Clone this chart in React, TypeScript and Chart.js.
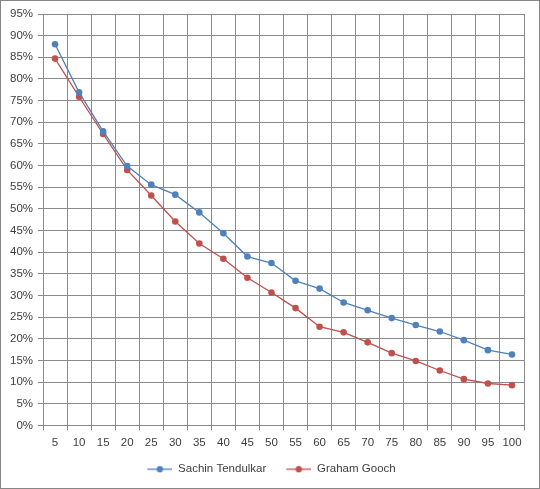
import React, { useEffect, useRef } from "react";
import { Chart, registerables } from "chart.js";

Chart.register(...registerables);

const categories = ["5", "10", "15", "20", "25", "30", "35", "40", "45", "50", "55", "60", "65", "70", "75", "80", "85", "90", "95", "100"];
const sachin = [88.0, 76.9, 67.9, 59.9, 55.6, 53.3, 49.2, 44.4, 39.0, 37.5, 33.4, 31.6, 28.4, 26.6, 24.8, 23.2, 21.7, 19.7, 17.4, 16.4];
const gooch = [84.7, 75.9, 67.3, 59.0, 53.1, 47.1, 42.0, 38.5, 34.1, 30.7, 27.1, 22.8, 21.5, 19.2, 16.7, 14.9, 12.7, 10.7, 9.7, 9.3];
const seriesNames = ["Sachin Tendulkar", "Graham Gooch"];
const seriesColors = ["#4F81BD", "#C0504D"];

const FONT = "'Liberation Sans', Arial, sans-serif";
const GRID = "#8a8a8a";
const TEXT = "#404040";

function legendIcon(color: string): HTMLCanvasElement {
  const c = document.createElement("canvas");
  c.width = 44;
  c.height = 8;
  const ctx = c.getContext("2d")!;
  ctx.strokeStyle = color;
  ctx.lineWidth = 1.3;
  ctx.beginPath();
  ctx.moveTo(19, 4);
  ctx.lineTo(44, 4);
  ctx.stroke();
  ctx.fillStyle = color;
  ctx.beginPath();
  ctx.arc(31.5, 4, 3.2, 0, Math.PI * 2);
  ctx.fill();
  return c;
}

const borderPlugin = {
  id: "frameBorder",
  beforeDraw(chart: any) {
    const ctx = chart.ctx;
    ctx.save();
    ctx.fillStyle = "#ffffff";
    ctx.fillRect(0, 0, chart.width, chart.height);
    ctx.restore();
  },
  afterDraw(chart: any) {
    const ctx = chart.ctx;
    ctx.save();
    ctx.strokeStyle = "#868686";
    ctx.lineWidth = 1;
    ctx.strokeRect(0.5, 0.5, chart.width - 1, chart.height - 1);
    ctx.restore();
  },
};

export default function App() {
  const ref = useRef<HTMLCanvasElement>(null);

  useEffect(() => {
    if (!ref.current) return;
    const icons = seriesColors.map(legendIcon);
    const chart = new Chart(ref.current, {
      type: "line",
      data: {
        labels: categories,
        datasets: [
          {
            label: seriesNames[0],
            data: sachin,
            borderColor: seriesColors[0],
            backgroundColor: seriesColors[0],
            borderWidth: 1.3,
            pointRadius: 3.3,
            pointBorderWidth: 0,
            pointStyle: "circle",
            tension: 0,
          },
          {
            label: seriesNames[1],
            data: gooch,
            borderColor: seriesColors[1],
            backgroundColor: seriesColors[1],
            borderWidth: 1.3,
            pointRadius: 3.3,
            pointBorderWidth: 0,
            pointStyle: "circle",
            tension: 0,
          },
        ],
      },
      options: {
        animation: false,
        responsive: false,
        layout: { padding: { left: 0, top: 14, right: 16, bottom: 4 } },
        plugins: {
          tooltip: { enabled: false },
          legend: {
            position: "bottom",
            labels: {
              usePointStyle: true,
              pointStyleWidth: 44,
              padding: 1,
              color: TEXT,
              font: { family: FONT, size: 11.5 },
              generateLabels: (c: any) =>
                c.data.datasets.map((d: any, i: number) => ({
                  text: d.label,
                  pointStyle: icons[i],
                  fillStyle: seriesColors[i],
                  strokeStyle: seriesColors[i],
                  lineWidth: 0,
                  fontColor: TEXT,
                  datasetIndex: i,
                  hidden: false,
                })),
            },
          },
        },
        scales: {
          x: {
            offset: true,
            afterFit: (s: any) => {
              s.height = 37;
            },
            grid: {
              offset: true,
              color: GRID,
              lineWidth: 1,
              drawTicks: true,
              tickLength: 5,
            },
            border: { color: GRID, width: 1 },
            ticks: {
              color: TEXT,
              font: { family: FONT, size: 11.5 },
              padding: 5,
              maxRotation: 0,
              autoSkip: false,
            },
          },
          y: {
            min: 0,
            max: 95,
            afterFit: (s: any) => {
              s.width = 43;
            },
            grid: {
              color: GRID,
              lineWidth: 1,
              drawTicks: true,
              tickLength: 5,
            },
            border: { color: GRID, width: 1 },
            ticks: {
              stepSize: 5,
              color: TEXT,
              font: { family: FONT, size: 11.5 },
              padding: 5,
              callback: (v: any) => `${v}%`,
            },
          },
        },
      },
      plugins: [borderPlugin],
    });
    return () => chart.destroy();
  }, []);

  return (
    <div style={{ position: "absolute", left: 0, top: 0, width: 540, height: 489 }}>
      <canvas ref={ref} width={540} height={489} style={{ display: "block", width: 540, height: 489 }} />
    </div>
  );
}
